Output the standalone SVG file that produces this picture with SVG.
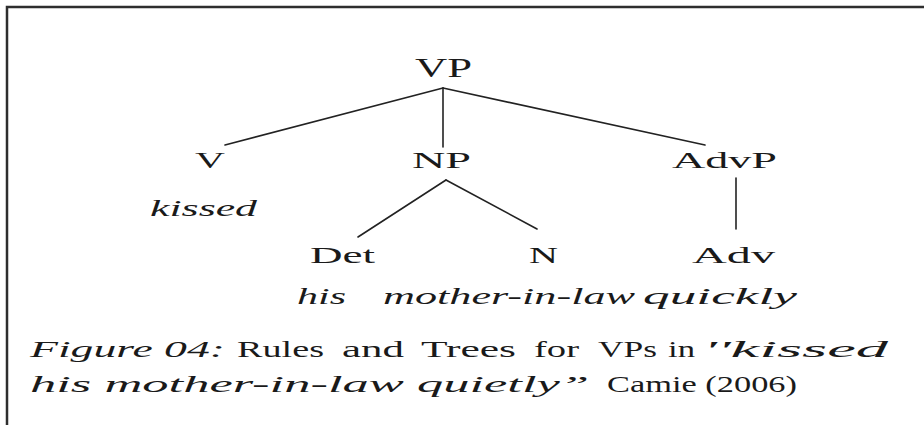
<svg xmlns="http://www.w3.org/2000/svg" width="924" height="425" viewBox="0 0 924 425">
  <style>
    text { font-family: 'Liberation Serif', Tinos, 'Times New Roman', Times, serif; font-size: 24px; fill: #1a1a1a; }
    .it { font-style: italic; }
    .big { font-size: 27px; }
    .edge { stroke: #222222; stroke-width: 1.6; fill: none; stroke-linecap: round; }
    .frame { stroke: #2e2e2e; stroke-width: 2.5; fill: none; }
  </style>
  <rect x="0" y="0" width="924" height="425" fill="#ffffff"/>
  <!-- frame: top and left borders -->
  <path class="frame" d="M7,425 V7 H924"/>

  <!-- tree edges -->
  <g id="connectors">
    <line class="edge" x1="443" y1="88" x2="225" y2="145"/>
    <line class="edge" x1="443" y1="88" x2="443" y2="147"/>
    <line class="edge" x1="443" y1="88" x2="705" y2="145"/>
    <line class="edge" x1="446" y1="180" x2="358" y2="237"/>
    <line class="edge" x1="446" y1="180" x2="537" y2="229"/>
    <line class="edge" x1="736" y1="178" x2="736" y2="229"/>
  </g>

  <!-- tree nodes -->
  <g id="node-vp"><text class="big" x="415" y="77" textLength="57" lengthAdjust="spacingAndGlyphs">VP</text></g>
  <g id="node-v">
    <text x="195" y="168" textLength="30" lengthAdjust="spacingAndGlyphs">V</text>
    <text class="it" x="150" y="216" textLength="107" lengthAdjust="spacingAndGlyphs">kissed</text>
  </g>
  <g id="node-np"><text x="412" y="168" textLength="59" lengthAdjust="spacingAndGlyphs">NP</text></g>
  <g id="node-advp"><text x="672" y="168" textLength="105" lengthAdjust="spacingAndGlyphs">AdvP</text></g>
  <g id="node-det">
    <text x="310" y="263" textLength="65" lengthAdjust="spacingAndGlyphs">Det</text>
    <text class="it" x="297" y="304" textLength="49" lengthAdjust="spacingAndGlyphs">his</text>
  </g>
  <g id="node-n">
    <text x="529" y="263" textLength="29" lengthAdjust="spacingAndGlyphs">N</text>
    <text class="it" x="383" y="304" textLength="252" lengthAdjust="spacingAndGlyphs">mother-in-law</text>
  </g>
  <g id="node-adv">
    <text x="692" y="263" textLength="83" lengthAdjust="spacingAndGlyphs">Adv</text>
    <text class="it" x="643" y="304" textLength="154" lengthAdjust="spacingAndGlyphs">quickly</text>
  </g>

  <!-- caption -->
  <g id="caption">
    <text class="it" x="30" y="357" textLength="195" lengthAdjust="spacingAndGlyphs">Figure 04:</text>
    <text x="237" y="357" textLength="87" lengthAdjust="spacingAndGlyphs">Rules</text>
    <text x="342" y="357" textLength="62" lengthAdjust="spacingAndGlyphs">and</text>
    <text x="421" y="357" textLength="95" lengthAdjust="spacingAndGlyphs">Trees</text>
    <text x="534" y="357" textLength="45" lengthAdjust="spacingAndGlyphs">for</text>
    <text x="598" y="357" textLength="59" lengthAdjust="spacingAndGlyphs">VPs</text>
    <text x="668" y="357" textLength="27" lengthAdjust="spacingAndGlyphs">in</text>
    <text class="it" x="703" y="357" textLength="185" lengthAdjust="spacingAndGlyphs">''kissed</text>
    <text class="it" x="30" y="392" textLength="559" lengthAdjust="spacingAndGlyphs">his mother-in-law quietly”</text>
    <text x="607" y="392" textLength="190" lengthAdjust="spacingAndGlyphs">Camie (2006)</text>
  </g>
</svg>
